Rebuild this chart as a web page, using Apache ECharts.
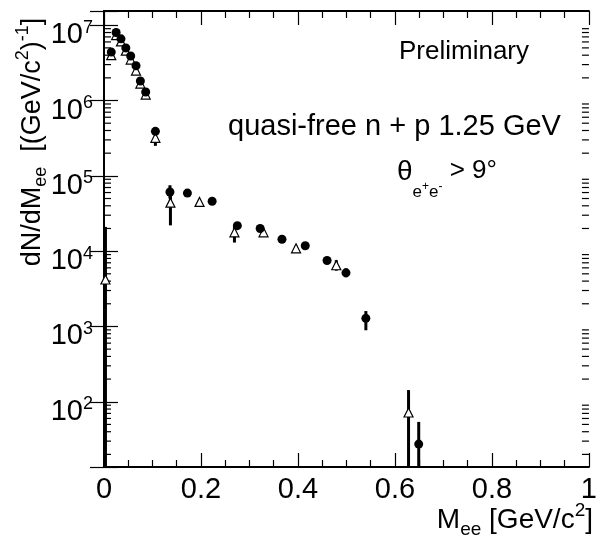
<!DOCTYPE html>
<html>
<head>
<meta charset="utf-8">
<script src="https://cdn.jsdelivr.net/npm/echarts@6/dist/echarts.min.js"></script>
<style>
html,body{margin:0;padding:0;background:#fff;}
#c{width:600px;height:539px;}
</style>
</head>
<body>
<div id="c"></div>
<script>
// ---- data ----
const circleX  = [0.015,0.025,0.035,0.045,0.055,0.066,0.075,0.086,0.106,0.136,0.172,0.223,0.275,0.322,0.367,0.415,0.460,0.499,0.540,0.649];
const circleY  = [4.4e6,8.0e6,6.6e6,5.0e6,3.9e6,2.9e6,1.82e6,1.3e6,3.9e5,6.1e4,5.9e4,4.6e4,2.18e4,2.0e4,1.44e4,1.18e4,7.5e3,5.15e3,1.28e3,27.4];
const circleLo = [4.1e6,7.5e6,6.2e6,4.7e6,3.6e6,2.7e6,1.7e6,1.2e6,3.6e5,5.0e4,5.5e4,4.3e4,2.0e4,1.85e4,1.35e4,1.1e4,7.0e3,4.5e3,890,1];
const circleHi = [4.7e6,8.5e6,7.0e6,5.3e6,4.2e6,3.1e6,1.95e6,1.4e6,4.2e5,7.5e4,6.3e4,4.9e4,2.35e4,2.15e4,1.53e4,1.26e4,8.0e3,5.9e3,1.6e3,54];

const triX  = [0.003,0.015,0.025,0.035,0.045,0.055,0.066,0.075,0.086,0.106,0.137,0.197,0.269,0.329,0.396,0.479,0.628];
const triY  = [4.2e3,4.0e6,7.4e6,6.1e6,4.6e6,3.5e6,2.5e6,1.68e6,1.2e6,3.2e5,4.4e4,4.5e4,1.78e4,1.78e4,1.09e4,6.5e3,72];
const triLo = [1,3.7e6,6.9e6,5.7e6,4.3e6,3.2e6,2.3e6,1.55e6,1.1e6,2.5e5,2.2e4,4.2e4,1.3e4,1.65e4,1.0e4,5.5e3,1];
const triHi = [2.1e4,4.3e6,7.9e6,6.5e6,4.9e6,3.8e6,2.7e6,1.8e6,1.3e6,3.6e5,6.0e4,4.8e4,2.1e4,1.9e4,1.18e4,7.6e3,143];

// axes
const xMin = 0, xMax = 1, xStep = 0.2;
const yMin = 13.6, yMax = 1.545e7;
const minorDecades = [10,100,1e3,1e4,1e5,1e6];
const minorMultipliers = [2,3,4,5,6,7,8,9];

// ---- build ----
const FONT = "'Liberation Sans', Arial, Helvetica, sans-serif";
const minorTickValues = [];
minorDecades.forEach(d => minorMultipliers.forEach(m => { const v = d*m; if (v > yMin && v < yMax) minorTickValues.push([0, v]); }));

const circles = circleX.map((x,i) => [x, circleY[i]]);
const circleErr = circleX.map((x,i) => [x, circleLo[i], circleHi[i]]);
const tris = triX.map((x,i) => [x, triY[i]]);
const triErr = triX.map((x,i) => [x, triLo[i], triHi[i]]);

function errRender(params, api) {
  const cs = params.coordSys;
  const x = api.value(0);
  const pTop = api.coord([x, api.value(2)]);
  const pBot = api.coord([x, api.value(1)]);
  const yTop = Math.max(cs.y, pTop[1]);
  const yBot = Math.min(cs.y + cs.height, pBot[1]);
  return {type:'line', shape:{x1:pTop[0], y1:yTop, x2:pTop[0], y2:yBot},
          style:{stroke:'#000', lineWidth:3}};
}
function minorRender(params, api) {
  const cs = params.coordSys;
  const y = api.coord([0, api.value(1)])[1];
  return {type:'group', children:[
    {type:'line', shape:{x1:cs.x, y1:y, x2:cs.x+7, y2:y}, style:{stroke:'#000', lineWidth:1.2}},
    {type:'line', shape:{x1:cs.x+cs.width, y1:y, x2:cs.x+cs.width-7, y2:y}, style:{stroke:'#000', lineWidth:1.2}}
  ]};
}

function yLabel(v) {
  const e = Math.log10(v);
  const r = Math.round(e);
  if (Math.abs(e - r) > 1e-6) return '';
  return '{b|10}{e|' + r + '}';
}

const axisLineStyle = {show:true, lineStyle:{color:'#000', width:2}};
const xCommon = {
  type:'value', min:xMin, max:xMax, interval:xStep,
  axisLine: axisLineStyle,
  axisTick:{show:true, inside:true, length:14, lineStyle:{color:'#000', width:1.2}},
  minorTick:{show:true, splitNumber:4, length:7, lineStyle:{color:'#000', width:1.2}},
  splitLine:{show:false}
};
const yCommon = {
  type:'log', logBase:10, min:yMin, max:yMax,
  axisLine: axisLineStyle,
  axisTick:{show:true, inside:true, length:14, lineStyle:{color:'#000', width:1.2}},
  minorTick:{show:false},
  splitLine:{show:false}
};

const chart = echarts.init(document.getElementById('c'), null, {renderer:'canvas', width:600, height:539});
chart.setOption({
  animation:false,
  backgroundColor:'#fff',
  textStyle:{fontFamily:FONT},
  grid:{left:104, right:5, top:11, bottom:72, containLabel:false},
  xAxis:[
    Object.assign({}, xCommon, {position:'bottom',
      axisLabel:{show:true, margin:8, color:'#000', fontSize:29, fontFamily:FONT,
        formatter: v => String(+v.toFixed(2))}}),
    Object.assign({}, xCommon, {position:'top', axisLabel:{show:false}})
  ],
  yAxis:[
    Object.assign({}, yCommon, {position:'left',
      axisLabel:{show:true, margin:11, color:'#000', fontFamily:FONT, formatter:yLabel,
        rich:{
          b:{fontSize:29, lineHeight:29, verticalAlign:'top', padding:[10,0,0,0], fontFamily:FONT, color:'#000'},
          e:{fontSize:18, lineHeight:18, verticalAlign:'top', padding:[8,0,0,0], fontFamily:FONT, color:'#000'}
        }}}),
    Object.assign({}, yCommon, {position:'right', axisLabel:{show:false}})
  ],
  series:[
    {type:'custom', name:'minorTicks', xAxisIndex:0, yAxisIndex:0, data:minorTickValues,
      encode:{x:0, y:1}, renderItem:minorRender, silent:true, z:1},
    {type:'custom', name:'triErr', xAxisIndex:0, yAxisIndex:0, data:triErr,
      encode:{x:0, y:[1,2]}, renderItem:errRender, silent:true, z:2},
    {type:'scatter', name:'tri', xAxisIndex:0, yAxisIndex:0, data:tris,
      symbol:'triangle', symbolSize:[9,9],
      itemStyle:{color:'#fff', borderColor:'#000', borderWidth:1.2, opacity:1}, z:3},
    {type:'custom', name:'circErr', xAxisIndex:0, yAxisIndex:0, data:circleErr,
      encode:{x:0, y:[1,2]}, renderItem:errRender, silent:true, z:4},
    {type:'scatter', name:'circ', xAxisIndex:0, yAxisIndex:0, data:circles,
      symbol:'circle', symbolSize:9, itemStyle:{color:'#000', opacity:1}, z:5}
  ],
  graphic:[
    {type:'text', left:399, top:54 - 15, silent:true,
      style:{text:'Preliminary', fontSize:26, fontFamily:FONT, fill:'#000'}},
    {type:'text', left:228, top:129.5 - 17, silent:true,
      style:{text:'quasi-free n + p 1.25 GeV', fontSize:29, fontFamily:FONT, fill:'#000'}},
    {type:'text', x:397, y:173 - 15, silent:true,
      style:{text:'{n|θ}{s|e}{t|+}{s|e}{t|-}{m| > 9°}', fill:'#000', verticalAlign:'top', align:'left',
        rich:{
          n:{fontSize:28, lineHeight:30, verticalAlign:'top', fontFamily:FONT, fill:'#000'},
          m:{fontSize:26, lineHeight:30, verticalAlign:'top', fontFamily:FONT, fill:'#000'},
          s:{fontSize:17, lineHeight:17, verticalAlign:'top', padding:[25.5,0,0,0], fontFamily:FONT, fill:'#000'},
          t:{fontSize:12, lineHeight:12, verticalAlign:'top', padding:[23,0,0,0], fontFamily:FONT, fill:'#000'}
        }}},
    {type:'text', x:593, y:521.5 - 21, silent:true,
      style:{text:'{n|M}{s|ee}{n| [GeV/c}{p|2}{n|]}', fill:'#000', align:'right', verticalAlign:'top',
        rich:{
          n:{fontSize:28, lineHeight:30, verticalAlign:'top', padding:[6,0,0,0], fontFamily:FONT, fill:'#000'},
          s:{fontSize:19, lineHeight:20, verticalAlign:'top', padding:[19.5,0,0,0], fontFamily:FONT, fill:'#000'},
          p:{fontSize:19, lineHeight:20, verticalAlign:'top', padding:[0.5,0,0,0], fontFamily:FONT, fill:'#000'}
        }}},
    {type:'text', x:28, y:142, rotation:Math.PI/2, silent:true,
      style:{text:'{n|dN/dM}{s|ee}{n|  [(GeV/c}{p|2}{n|)}{p|-1}{n|]}', fill:'#000', align:'center', verticalAlign:'middle',
        rich:{
          n:{fontSize:27, lineHeight:29, verticalAlign:'top', padding:[6,0,0,0], fontFamily:FONT, fill:'#000'},
          s:{fontSize:18, lineHeight:19, verticalAlign:'top', padding:[19,0,0,0], fontFamily:FONT, fill:'#000'},
          p:{fontSize:18, lineHeight:19, verticalAlign:'top', padding:[0.5,0,0,0], fontFamily:FONT, fill:'#000'}
        }}}
  ]
});
</script>
</body>
</html>
